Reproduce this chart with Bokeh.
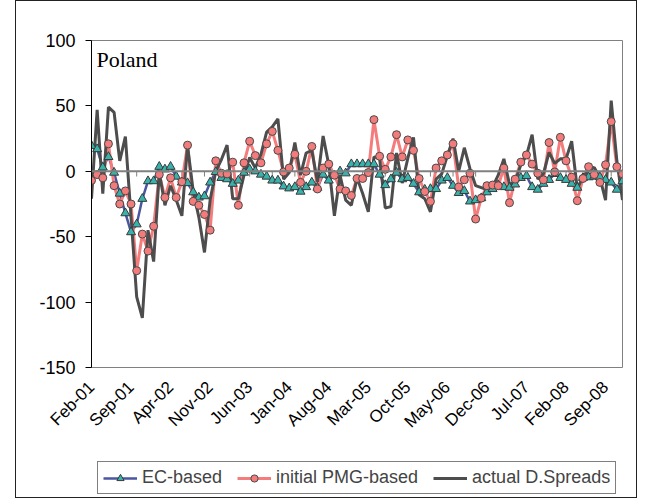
from math import pi
from bokeh.plotting import figure
from bokeh.models import Range1d, FixedTicker, Legend, LegendItem, Label, Span, Spacer, Row, Column
from bokeh.embed import file_html
from bokeh.resources import INLINE

# ---- data (monthly, Feb-01 .. Dec-08) ----
tick_labels = ["Feb-01", "Sep-01", "Apr-02", "Nov-02", "Jun-03", "Jan-04", "Aug-04",
               "Mar-05", "Oct-05", "May-06", "Dec-06", "Jul-07", "Feb-08", "Sep-08"]
y_ticks = [-150, -100, -50, 0, 50, 100]
y_tick_labels = ["-150", "-100", "-50", "0", "50", "100"]

ec_based = [19.5, 17, 3, 11, -1, -17, -32, -46.5, -40.5, -21,
            -7.5, -7.5, 3.5, 1.5, 3.5, -4, -8.5, -9, -16, -20,
            -19, -8.5, -0.5, -5, -6, -9.5, -7, -1, 1.5, 0,
            -2.5, -4, -7, -7, -11.5, -13, -12, -15.5, -12, -8.5,
            -12.5, -2.5, -7, -3, 0, -1.5, 5.5, 5.5, 5.5, 5.5,
            5.5, -2.5, -10.5, -6, -1, -6, -5, -9.5, -16, -14,
            -13.5, -13.5, -7, -5, -11, -16.5, -15, -23, -22, -20.5,
            -16, -13.5, -10.5, -12, -12.5, -10, -5, -3.5, -12, -14,
            -9.5, -6.5, -2, -5, -6.5, -9.5, -12.5, -5, -4.5, -4,
            -4.5, -6.5, -8.5, -14, -7.5]

pmg_based = [-7, -2.5, -5, 21, -11, -25, -15, -25, -76, -48,
             -61, -42, -2.5, -20, -5, -20, -8, 20, -23, -26,
             -33, -45, 8, -1.5, -2, 7, -26, 6.5, 23, 12,
             6.5, 21, 30.5, 16, -0.5, 2.5, 13, -8.5, 0, 19,
             -13.5, 2.5, 5.5, -3, -13.5, -15, -18.5, -5.5, -5.5, -1,
             39.5, 11.5, 1.5, 11, 28, 11, 24, 16, -5.5, -15.5,
             -23, 2.5, 8, 12.5, 21, -12, -6.5, -1.5, -36.5, -20.5,
             -11, -10.5, -11, 2.5, -24, -6, 7, 12.5, 5.5, -1.5,
             -6.5, 22, -0.5, 26, 8, -4.5, -22.5, -5.5, 3.5, -2.5,
             -8.5, 5, 38, 3.5, -2]

actual = [-21, 47, -17, 49, 45, 8, 26.5, -35, -96, -112,
          -45, -69, -1, -26, -11, -22, -34, 19.5, -15, -35,
          -62, -22, 0, 9, 20, -21, -21, -3, 10.5, 2.5,
          13, 30, 34, 40, -6, -1, 22, -3, 14, 16,
          -8, 27, 5, -34, -3, -22, -26, -5, -17, -31,
          11, 10, -28, -27, 14, -9, 10, 26, -18, -21,
          -31, -6, -2, 12, 25, 0, 18, 2, -11, -12.5,
          -14, -12, -3, 9.5, -10, -8, 5, 12, 28, -6,
          -2, 14.5, 6, 9.5, 9.5, 23, -13.5, -4, 0.5, 3,
          -5, -22, 54, 8, -22]

x = list(range(len(actual)))
label_pos = list(range(0, len(actual), 7))
minor_pos = list(range(0, len(actual), 4))

FONT = "Liberation Sans"
C_EC_LINE, C_EC_FILL = "#4A56A0", "#37B3AC"
C_PMG_LINE, C_PMG_FILL = "#F57C7C", "#F27B7B"
C_ACT = "#4D4D4D"

# ---------------- main chart ----------------
p = figure(width=620, height=443, output_backend="svg", toolbar_location=None,
           x_range=Range1d(0, len(actual) - 1), y_range=Range1d(-150, 100),
           min_border_left=75, min_border_right=14, min_border_top=39, min_border_bottom=77,
           background_fill_color="white", border_fill_color="white")
p.outline_line_color = "#808080"
p.outline_line_width = 1
p.xgrid.visible = False
p.ygrid.visible = False

p.yaxis.ticker = FixedTicker(ticks=y_ticks)
p.yaxis.major_label_overrides = {t: s for t, s in zip(y_ticks, y_tick_labels)}
p.yaxis.axis_line_color = "black"
p.yaxis.major_tick_line_color = "black"
p.yaxis.major_tick_out = 6
p.yaxis.major_tick_in = 0
p.yaxis.minor_tick_line_color = None
p.yaxis.major_label_text_font = FONT
p.yaxis.major_label_text_font_size = "18px"
p.yaxis.major_label_text_color = "black"
p.yaxis.major_label_standoff = 10

p.xaxis.ticker = FixedTicker(ticks=label_pos)
p.xaxis.major_label_overrides = {i: lab for i, lab in zip(label_pos, tick_labels)}
p.xaxis.major_label_orientation = pi / 4
p.xaxis.axis_line_color = None
p.xaxis.major_tick_line_color = None
p.xaxis.minor_tick_line_color = None
p.xaxis.major_label_text_font = FONT
p.xaxis.major_label_text_font_size = "17px"
p.xaxis.major_label_text_color = "black"
p.xaxis.major_label_standoff = 11

p.add_layout(Span(location=0, dimension="width", line_color="#808080", line_width=2))
p.segment(x0=minor_pos, y0=[0] * len(minor_pos), x1=minor_pos, y1=[-4] * len(minor_pos),
          line_color="#808080", line_width=1)

p.line(x, ec_based, line_color=C_EC_LINE, line_width=2.5)
p.line(x, pmg_based, line_color=C_PMG_LINE, line_width=3)
p.line(x, actual, line_color=C_ACT, line_width=3)
p.scatter(x, ec_based, marker="triangle", size=9, fill_color=C_EC_FILL,
          line_color="#3A3A3A", line_width=1)
p.scatter(x, pmg_based, marker="circle", size=8, fill_color=C_PMG_FILL,
          line_color="#4A4A4A", line_width=1)

p.add_layout(Label(x=5, y=308, x_units="screen", y_units="screen", text="Poland",
                   text_font="Liberation Serif", text_font_size="22px",
                   text_baseline="middle", text_color="black"))

# ---------------- legend strip ----------------
q = figure(width=620, height=53, output_backend="svg", toolbar_location=None,
           x_range=Range1d(-20, -10), y_range=Range1d(-150, 100),
           x_axis_type=None, y_axis_type=None, min_border=0,
           min_border_left=75, min_border_right=14,
           background_fill_color="white", border_fill_color="white")
q.outline_line_color = None
q.xgrid.visible = False
q.ygrid.visible = False
ql_ec = q.line(x, ec_based, line_color=C_EC_LINE, line_width=2.5)
qm_ec = q.scatter(x, ec_based, marker="triangle", size=9, fill_color=C_EC_FILL,
                  line_color="#3A3A3A", line_width=1)
ql_pmg = q.line(x, pmg_based, line_color=C_PMG_LINE, line_width=3)
qm_pmg = q.scatter(x, pmg_based, marker="circle", size=8, fill_color=C_PMG_FILL,
                   line_color="#4A4A4A", line_width=1)
ql_act = q.line(x, actual, line_color=C_ACT, line_width=3)

legend = Legend(items=[LegendItem(label="EC-based", renderers=[ql_ec, qm_ec]),
                       LegendItem(label="initial PMG-based", renderers=[ql_pmg, qm_pmg]),
                       LegendItem(label="actual D.Spreads", renderers=[ql_act])],
                location=(6, 3), orientation="horizontal",
                border_line_color="black", border_line_width=1,
                background_fill_color="white", background_fill_alpha=1,
                label_text_font=FONT, label_text_font_size="18px",
                glyph_width=34, glyph_height=18, padding=5, spacing=15,
                label_standoff=5, margin=0)
q.add_layout(legend)

box = Column(p, q, styles={"border": "1px solid #222222"})
layout = Row(Spacer(width=15, height=10), box)
open("out.html", "w").write(file_html(layout, INLINE))
